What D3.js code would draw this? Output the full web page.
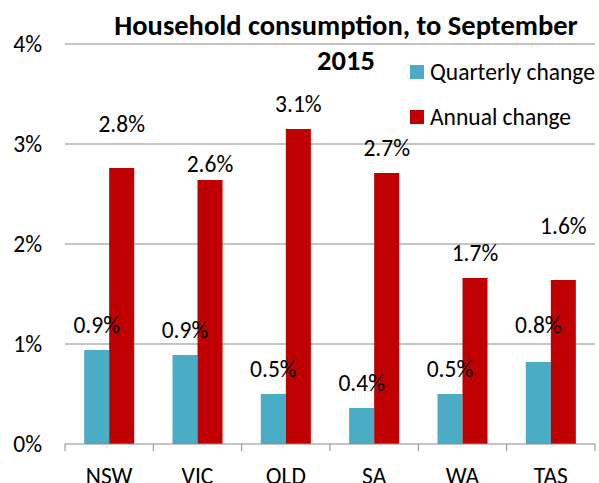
<!DOCTYPE html>
<html>
<head>
<meta charset="utf-8">
<script src="https://cdn.jsdelivr.net/npm/d3@7"></script>
<style>
  body { margin: 0; background: #fff; }
  svg { display: block; font-family: Carlito, Calibri, Lato, "Open Sans", sans-serif; }
</style>
</head>
<body>
<svg id="chart" width="599" height="483"></svg>
<script>
// data
var states = ["NSW", "VIC", "QLD", "SA", "WA", "TAS"];
var seriesNames = ["Quarterly change", "Annual change"];
var quarterly = [0.94, 0.89, 0.50, 0.36, 0.50, 0.82];
var annual = [2.76, 2.64, 3.15, 2.71, 1.66, 1.64];
var quarterlyLabels = ["0.9%", "0.9%", "0.5%", "0.4%", "0.5%", "0.8%"];
var annualLabels = ["2.8%", "2.6%", "3.1%", "2.7%", "1.7%", "1.6%"];
var yTicks = [0, 1, 2, 3, 4];

var colors = { "Quarterly change": "#4BACC6", "Annual change": "#C00000" };

// excel had some labels dragged by hand, nudge them the same way (px up)
var labelNudge = {
  "Quarterly change": { TAS: 12 },
  "Annual change": { NSW: 19, VIC: -9, TAS: 29 }
};

var FS = 23.5;

var svg = d3.select("#chart");
var plotLeft = 65, plotRight = 595, plotTop = 44, plotBottom = 444;

var x0 = d3.scaleBand().domain(states).range([plotLeft, plotRight]);
var x1 = d3.scaleBand().domain(seriesNames)
    .range([0, x0.bandwidth()])
    .paddingInner(0).paddingOuter(0.766);
var y = d3.scaleLinear().domain([0, 4]).range([plotBottom, plotTop]);

// gridlines
svg.append("g")
    .selectAll("line")
    .data(yTicks.filter(function(d) { return d > 0; }))
    .enter().append("line")
      .attr("x1", plotLeft).attr("x2", plotRight)
      .attr("y1", function(d) { return y(d); })
      .attr("y2", function(d) { return y(d); })
      .attr("stroke", "#898989")
      .attr("stroke-width", 1);

// y tick labels
svg.append("g")
    .selectAll("text")
    .data(yTicks)
    .enter().append("text")
      .attr("x", 42)
      .attr("y", function(d) { return y(d) + 8; })
      .attr("text-anchor", "end")
      .attr("font-size", FS)
      .attr("fill", "#000")
      .text(function(d) { return d + "%"; });

var rows = states.map(function(s, i) {
  return [
    { state: s, series: seriesNames[0], value: quarterly[i], label: quarterlyLabels[i] },
    { state: s, series: seriesNames[1], value: annual[i], label: annualLabels[i] }
  ];
});

var groups = svg.append("g")
    .selectAll("g")
    .data(rows)
    .enter().append("g")
      .attr("transform", function(d) { return "translate(" + x0(d[0].state) + ",0)"; });

groups.selectAll("rect")
    .data(function(d) { return d; })
    .enter().append("rect")
      .attr("x", function(d) { return x1(d.series); })
      .attr("width", x1.bandwidth())
      .attr("y", function(d) { return y(d.value); })
      .attr("height", function(d) { return plotBottom - y(d.value); })
      .attr("fill", function(d) { return colors[d.series]; });

// x axis
var xAxis = svg.append("g")
    .attr("transform", "translate(0," + plotBottom + ")")
    .call(d3.axisBottom(x0).tickSize(0).tickPadding(0));
xAxis.attr("font-family", null).attr("font-size", null);
xAxis.select(".domain").attr("stroke", "#898989").attr("d", "M" + plotLeft + ",0H" + plotRight);
xAxis.selectAll(".tick text")
    .attr("dy", null)
    .attr("y", 40)
    .attr("font-size", FS)
    .attr("fill", "#000");

var bounds = states.map(function(s) { return x0(s); }).concat([plotRight]);
svg.append("g")
    .selectAll("line")
    .data(bounds)
    .enter().append("line")
      .attr("x1", function(d) { return d; }).attr("x2", function(d) { return d; })
      .attr("y1", plotBottom).attr("y2", plotBottom + 7)
      .attr("stroke", "#898989");

// data labels
groups.selectAll("text.lbl")
    .data(function(d) { return d; })
    .enter().append("text")
      .attr("class", "lbl")
      .attr("x", function(d) { return x1(d.series) + x1.bandwidth() / 2; })
      .attr("y", function(d) {
        var nudge = labelNudge[d.series][d.state] || 0;
        return y(d.value) - 25 - nudge + 8;
      })
      .attr("text-anchor", "middle")
      .attr("font-size", FS)
      .attr("fill", "#000")
      .text(function(d) { return d.label; });

// title
var title = svg.append("text")
    .attr("text-anchor", "middle")
    .attr("font-size", 28.5)
    .attr("font-weight", "bold")
    .attr("fill", "#000");
title.append("tspan").attr("x", 346).attr("y", 35).text("Household consumption, to September");
title.append("tspan").attr("x", 346).attr("y", 70).text("2015");

// legend
var legend = svg.append("g")
    .selectAll("g")
    .data(seriesNames)
    .enter().append("g")
      .attr("transform", function(d, i) { return "translate(410," + (65 + i * 45) + ")"; });
legend.append("rect")
    .attr("width", 14).attr("height", 14)
    .attr("fill", function(d) { return colors[d]; });
legend.append("text")
    .attr("x", 20).attr("y", 15)
    .attr("font-size", FS)
    .attr("fill", "#000")
    .text(function(d) { return d; });
</script>
</body>
</html>
